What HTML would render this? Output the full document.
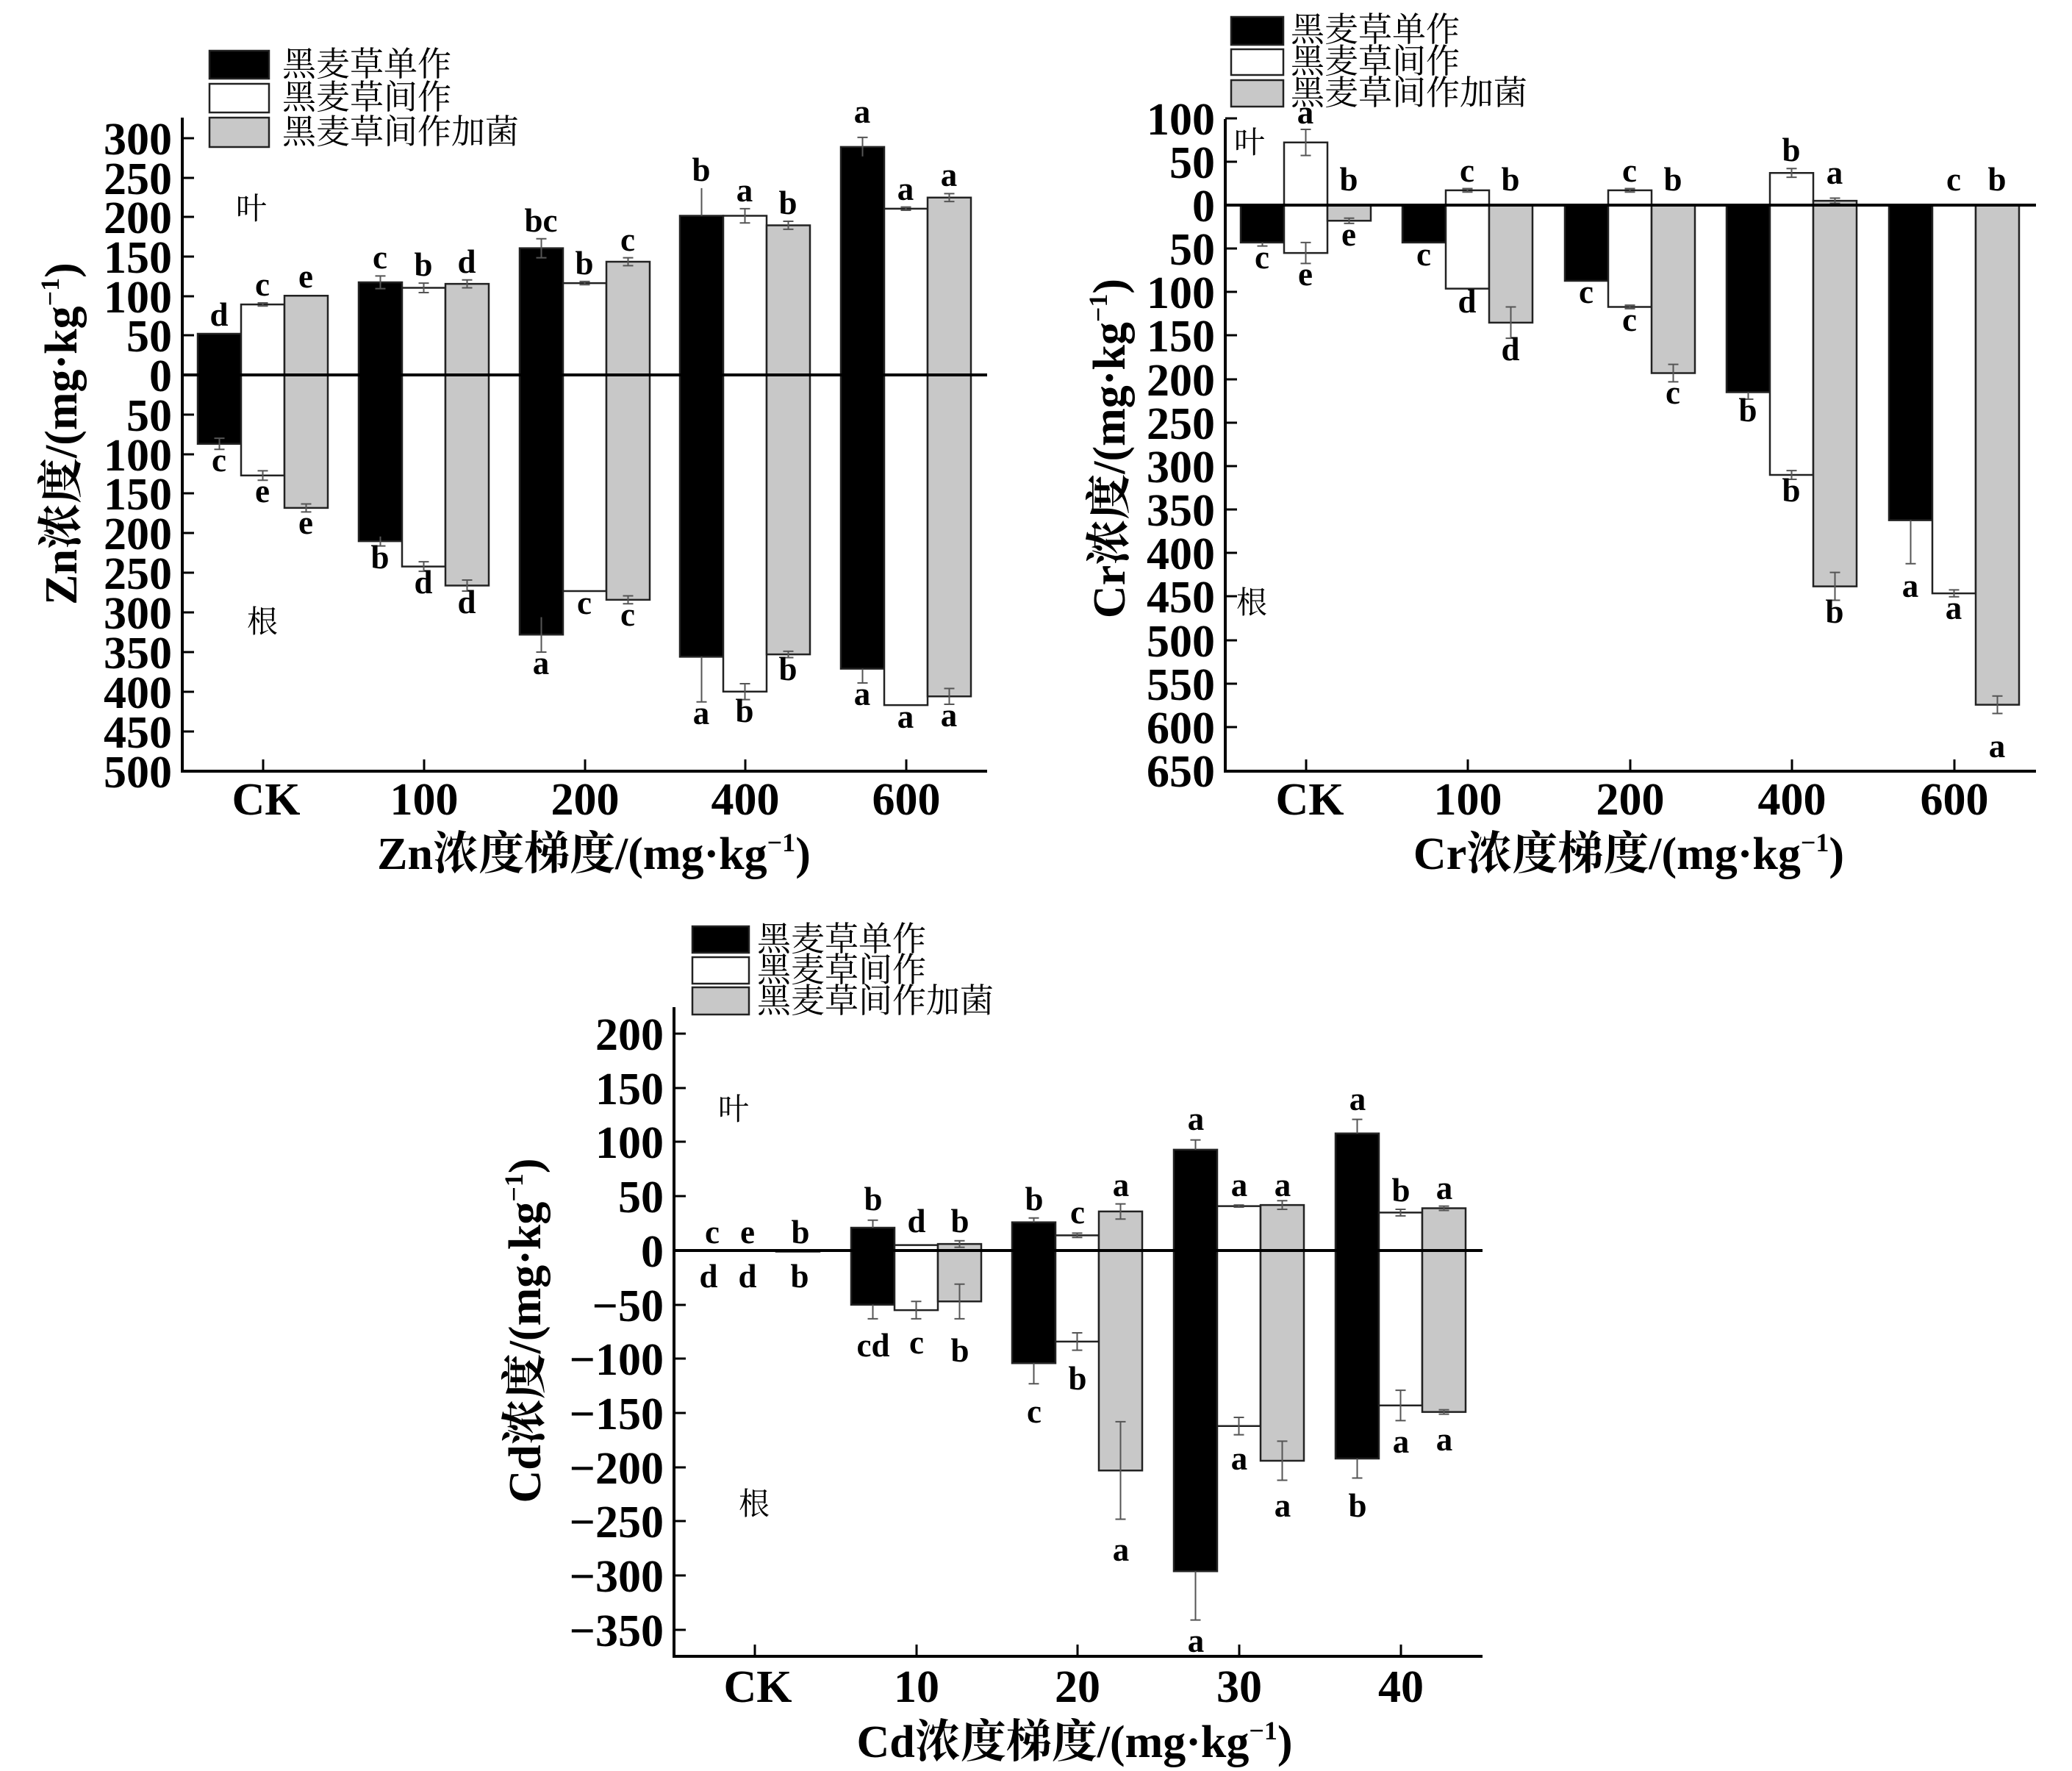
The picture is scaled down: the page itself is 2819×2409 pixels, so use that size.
<!DOCTYPE html>
<html><head><meta charset="utf-8"><style>
html,body{margin:0;padding:0;background:#fff;}
svg{display:block;}
.tk{font-family:"Liberation Serif",serif;font-weight:bold;font-size:62px;}
.lt{font-family:"Liberation Serif",serif;font-weight:bold;font-size:45px;text-anchor:middle;}
.lg{font-family:"Liberation Serif","Noto Serif CJK SC",serif;font-size:46px;}
.ttl{font-family:"Liberation Serif","Noto Serif CJK SC",serif;font-weight:bold;font-size:62px;text-anchor:middle;}
.cn{font-family:"Noto Serif CJK SC",serif;font-size:42px;text-anchor:middle;}
.bk{fill:#000;stroke:#222;stroke-width:2.5;}
.wh{fill:#fff;stroke:#222;stroke-width:2.5;}
.gr{fill:#c8c8c8;stroke:#222;stroke-width:2.5;}
.er{fill:none;stroke:#555;stroke-width:2;}
.ax{fill:none;stroke:#000;stroke-width:4;}
</style></head><body>
<svg width="2819" height="2409" viewBox="0 0 2819 2409" xmlns="http://www.w3.org/2000/svg">
<rect width="2819" height="2409" fill="#fff"/>

<!-- ================= Zn ================= -->
<g transform="translate(0,510) scale(1,-1.077)">
<rect class="bk" vector-effect="non-scaling-stroke" x="269" y="-87" width="59" height="139"/>
<rect class="wh" vector-effect="non-scaling-stroke" x="328" y="-127" width="59" height="216"/>
<rect class="gr" vector-effect="non-scaling-stroke" x="387" y="-168" width="59" height="268"/>
<rect class="bk" vector-effect="non-scaling-stroke" x="488" y="-210" width="59" height="327"/>
<rect class="wh" vector-effect="non-scaling-stroke" x="547" y="-242" width="59" height="352"/>
<rect class="gr" vector-effect="non-scaling-stroke" x="606" y="-266" width="59" height="381"/>
<rect class="bk" vector-effect="non-scaling-stroke" x="707" y="-328" width="59" height="488"/>
<rect class="wh" vector-effect="non-scaling-stroke" x="766" y="-273" width="59" height="389"/>
<rect class="gr" vector-effect="non-scaling-stroke" x="825" y="-284" width="59" height="427"/>
<rect class="bk" vector-effect="non-scaling-stroke" x="925" y="-356" width="59" height="557"/>
<rect class="wh" vector-effect="non-scaling-stroke" x="984" y="-400" width="59" height="601"/>
<rect class="gr" vector-effect="non-scaling-stroke" x="1043" y="-353" width="59" height="542"/>
<rect class="bk" vector-effect="non-scaling-stroke" x="1144" y="-371" width="59" height="659"/>
<rect class="wh" vector-effect="non-scaling-stroke" x="1203" y="-417" width="59" height="627"/>
<rect class="gr" vector-effect="non-scaling-stroke" x="1262" y="-406" width="59" height="630"/>
<path class="er" vector-effect="non-scaling-stroke" d="
M298.5 -94V-80M291.5 -94h14M291.5 -80h14
M357.5 87V91M350.5 87h14M350.5 91h14M357.5 -133V-121M350.5 -133h14M350.5 -121h14
M416.5 -173V-163M409.5 -173h14M409.5 -163h14
M517.5 109V125M510.5 109h14M510.5 125h14M517.5 -216V-204M510.5 -216h14
M576.5 104V116M569.5 104h14M569.5 116h14M576.5 -248V-236M569.5 -248h14M569.5 -236h14
M635.5 110V120M628.5 110h14M628.5 120h14M635.5 -273V-259M628.5 -273h14M628.5 -259h14
M736.5 148V172M729.5 148h14M729.5 172h14M736.5 -350V-306M729.5 -350h14
M795.5 114V118M788.5 114h14M788.5 118h14
M854.5 138V148M847.5 138h14M847.5 148h14M854.5 -289V-279M847.5 -289h14M847.5 -279h14
M954.5 201V236M954.5 -413V-356M947.5 -413h14
M1013.5 192V210M1006.5 192h14M1006.5 210h14M1013.5 -410V-390M1006.5 -410h14M1006.5 -390h14
M1072.5 184V194M1065.5 184h14M1065.5 194h14M1072.5 -357V-349M1065.5 -357h14M1065.5 -349h14
M1173.5 276V300M1166.5 300h14M1173.5 -389V-371M1166.5 -389h14
M1232.5 208V212M1225.5 208h14M1225.5 212h14
M1291.5 219V229M1284.5 219h14M1284.5 229h14M1291.5 -416V-396M1284.5 -416h14M1284.5 -396h14"/>
</g>
<path class="ax" d="M248 160V1049H1343"/>
<path class="ax" d="M248 510H1343"/>
<path class="ax" style="stroke-width:3" d="M248 188h16M248 242h16M248 295h16M248 349h16M248 403h16M248 456h16M248 564h16M248 618h16M248 671h16M248 725h16M248 779h16M248 833h16M248 887h16M248 941h16M248 995h16
M358 1049v-16M577 1049v-16M796 1049v-16M1014 1049v-16M1233 1049v-16"/>
<g class="tk" text-anchor="end">
<text x="234" y="210">300</text><text x="234" y="264">250</text><text x="234" y="317">200</text><text x="234" y="371">150</text><text x="234" y="425">100</text><text x="234" y="478">50</text><text x="234" y="532">0</text><text x="234" y="586">50</text><text x="234" y="640">100</text><text x="234" y="693">150</text><text x="234" y="747">200</text><text x="234" y="801">250</text><text x="234" y="855">300</text><text x="234" y="909">350</text><text x="234" y="963">400</text><text x="234" y="1017">450</text><text x="234" y="1071">500</text>
</g>
<g class="tk" text-anchor="middle">
<text x="362" y="1108">CK</text><text x="577" y="1108">100</text><text x="796" y="1108">200</text><text x="1014" y="1108">400</text><text x="1233" y="1108">600</text>
</g>
<text class="ttl" x="808" y="1182">Zn浓度梯度/(mg·kg<tspan font-size="36" dy="-24">−1</tspan><tspan dy="24">)</tspan></text>
<text class="ttl" transform="translate(104,590) rotate(-90)">Zn浓度/(mg·kg<tspan font-size="36" dy="-24">−1</tspan><tspan dy="24">)</tspan></text>
<text class="cn" x="342" y="298">叶</text>
<text class="cn" x="357" y="860">根</text>
<g class="lt">
<text x="298" y="443">d</text><text x="357" y="402">c</text><text x="416" y="391">e</text>
<text x="298" y="641">c</text><text x="357" y="683">e</text><text x="416" y="726">e</text>
<text x="517" y="365">c</text><text x="576" y="375">b</text><text x="635" y="371">d</text>
<text x="517" y="773">b</text><text x="576" y="807">d</text><text x="635" y="834">d</text>
<text x="736" y="315">bc</text><text x="795" y="373">b</text><text x="854" y="341">c</text>
<text x="736" y="917">a</text><text x="795" y="835">c</text><text x="854" y="851">c</text>
<text x="954" y="246">b</text><text x="1013" y="274">a</text><text x="1072" y="291">b</text>
<text x="954" y="985">a</text><text x="1013" y="982">b</text><text x="1072" y="925">b</text>
<text x="1173" y="167">a</text><text x="1232" y="272">a</text><text x="1291" y="253">a</text>
<text x="1173" y="959">a</text><text x="1232" y="990">a</text><text x="1291" y="988">a</text>
</g>
<rect x="285" y="69" width="81" height="38" fill="#000" stroke="#222" stroke-width="2.5"/>
<rect x="285" y="114" width="81" height="39" fill="#fff" stroke="#222" stroke-width="2.5"/>
<rect x="285" y="160" width="81" height="40" fill="#c8c8c8" stroke="#222" stroke-width="2.5"/>
<g class="lg"><text x="384" y="103">黑麦草单作</text><text x="384" y="148">黑麦草间作</text><text x="384" y="195">黑麦草间作加菌</text></g>

<!-- ================= Cr ================= -->
<g transform="translate(0,279) scale(1,-1.184)">
<rect class="bk" vector-effect="non-scaling-stroke" x="1688" y="-43" width="59" height="43"/>
<rect class="wh" vector-effect="non-scaling-stroke" x="1747" y="-55" width="59" height="127"/>
<rect class="gr" vector-effect="non-scaling-stroke" x="1806" y="-18" width="59" height="18"/>
<rect class="bk" vector-effect="non-scaling-stroke" x="1908" y="-43" width="59" height="43"/>
<rect class="wh" vector-effect="non-scaling-stroke" x="1967" y="-96" width="59" height="113"/>
<rect class="gr" vector-effect="non-scaling-stroke" x="2026" y="-135" width="59" height="135"/>
<rect class="bk" vector-effect="non-scaling-stroke" x="2129" y="-87" width="59" height="87"/>
<rect class="wh" vector-effect="non-scaling-stroke" x="2188" y="-117" width="59" height="134"/>
<rect class="gr" vector-effect="non-scaling-stroke" x="2247" y="-193" width="59" height="193"/>
<rect class="bk" vector-effect="non-scaling-stroke" x="2349" y="-215" width="59" height="215"/>
<rect class="wh" vector-effect="non-scaling-stroke" x="2408" y="-310" width="59" height="347"/>
<rect class="gr" vector-effect="non-scaling-stroke" x="2467" y="-438" width="59" height="443"/>
<rect class="bk" vector-effect="non-scaling-stroke" x="2570" y="-362" width="59" height="362"/>
<rect class="wh" vector-effect="non-scaling-stroke" x="2629" y="-446" width="59" height="446"/>
<rect class="gr" vector-effect="non-scaling-stroke" x="2688" y="-574" width="59" height="574"/>
<path class="er" vector-effect="non-scaling-stroke" d="
M1717.5 -47V-43M1710.5 -47h14
M1776.5 57V87M1769.5 57h14M1769.5 87h14M1776.5 -67V-43M1769.5 -67h14M1769.5 -43h14
M1835.5 -21V-15M1828.5 -21h14M1828.5 -15h14
M1996.5 15V19M1989.5 15h14M1989.5 19h14
M2055.5 -153V-117M2048.5 -153h14M2048.5 -117h14
M2217.5 15V19M2210.5 15h14M2210.5 19h14M2217.5 -119V-115M2210.5 -119h14M2210.5 -115h14
M2276.5 -203V-183M2269.5 -203h14M2269.5 -183h14
M2378.5 -223V-215M2371.5 -223h14
M2437.5 32V42M2430.5 32h14M2430.5 42h14M2437.5 -315V-305M2430.5 -315h14M2430.5 -305h14
M2496.5 2V8M2489.5 2h14M2489.5 8h14M2496.5 -454V-422M2489.5 -454h14M2489.5 -422h14
M2599.5 -412V-362M2592.5 -412h14
M2658.5 -450V-442M2651.5 -450h14M2651.5 -442h14
M2717.5 -584V-564M2710.5 -584h14M2710.5 -564h14"/>
</g>
<path class="ax" d="M1667 162V1049H2770"/>
<path class="ax" d="M1667 279H2770"/>
<path class="ax" style="stroke-width:3" d="M1667 161h16M1667 220h16M1667 338h16M1667 397h16M1667 456h16M1667 516h16M1667 575h16M1667 634h16M1667 693h16M1667 752h16M1667 811h16M1667 871h16M1667 930h16M1667 989h16
M1777 1049v-16M1997 1049v-16M2218 1049v-16M2438 1049v-16M2659 1049v-16"/>
<g class="tk" text-anchor="end">
<text x="1653" y="183">100</text><text x="1653" y="242">50</text><text x="1653" y="301">0</text><text x="1653" y="360">50</text><text x="1653" y="419">100</text><text x="1653" y="478">150</text><text x="1653" y="538">200</text><text x="1653" y="597">250</text><text x="1653" y="656">300</text><text x="1653" y="715">350</text><text x="1653" y="774">400</text><text x="1653" y="833">450</text><text x="1653" y="893">500</text><text x="1653" y="952">550</text><text x="1653" y="1011">600</text><text x="1653" y="1070">650</text>
</g>
<g class="tk" text-anchor="middle">
<text x="1782" y="1108">CK</text><text x="1997" y="1108">100</text><text x="2218" y="1108">200</text><text x="2438" y="1108">400</text><text x="2659" y="1108">600</text>
</g>
<text class="ttl" x="2216" y="1182">Cr浓度梯度/(mg·kg<tspan font-size="36" dy="-24">−1</tspan><tspan dy="24">)</tspan></text>
<text class="ttl" transform="translate(1530,610) rotate(-90)">Cr浓度/(mg·kg<tspan font-size="36" dy="-24">−1</tspan><tspan dy="24">)</tspan></text>
<text class="cn" x="1700" y="208">叶</text>
<text class="cn" x="1703" y="834">根</text>
<g class="lt">
<text x="1776" y="168">a</text><text x="1835" y="259">b</text>
<text x="1717" y="365">c</text><text x="1776" y="388">e</text><text x="1835" y="334">e</text>
<text x="1996" y="247">c</text><text x="2055" y="259">b</text>
<text x="1937" y="361">c</text><text x="1996" y="425">d</text><text x="2055" y="490">d</text>
<text x="2217" y="247">c</text><text x="2276" y="259">b</text>
<text x="2158" y="412">c</text><text x="2217" y="450">c</text><text x="2276" y="549">c</text>
<text x="2437" y="219">b</text><text x="2496" y="250">a</text>
<text x="2378" y="573">b</text><text x="2437" y="682">b</text><text x="2496" y="847">b</text>
<text x="2658" y="259">c</text><text x="2717" y="259">b</text>
<text x="2599" y="812">a</text><text x="2658" y="842">a</text><text x="2717" y="1030">a</text>
</g>
<rect x="1675" y="23" width="71" height="38" fill="#000" stroke="#222" stroke-width="2.5"/>
<rect x="1675" y="67" width="71" height="35" fill="#fff" stroke="#222" stroke-width="2.5"/>
<rect x="1675" y="109" width="71" height="36" fill="#c8c8c8" stroke="#222" stroke-width="2.5"/>
<g class="lg"><text x="1756" y="56">黑麦草单作</text><text x="1756" y="99">黑麦草间作</text><text x="1756" y="142">黑麦草间作加菌</text></g>

<!-- ================= Cd ================= -->
<g transform="translate(0,1701) scale(1,-1.474)">
<rect class="gr" vector-effect="non-scaling-stroke" x="1056" y="-1" width="59" height="1"/>
<rect class="bk" vector-effect="non-scaling-stroke" x="1158" y="-50" width="59" height="71"/>
<rect class="wh" vector-effect="non-scaling-stroke" x="1217" y="-55" width="59" height="60"/>
<rect class="gr" vector-effect="non-scaling-stroke" x="1276" y="-47" width="59" height="53"/>
<rect class="bk" vector-effect="non-scaling-stroke" x="1377" y="-104" width="59" height="130"/>
<rect class="wh" vector-effect="non-scaling-stroke" x="1436" y="-84" width="59" height="98"/>
<rect class="gr" vector-effect="non-scaling-stroke" x="1495" y="-203" width="59" height="239"/>
<rect class="bk" vector-effect="non-scaling-stroke" x="1597" y="-296" width="59" height="389"/>
<rect class="wh" vector-effect="non-scaling-stroke" x="1656" y="-162" width="59" height="203"/>
<rect class="gr" vector-effect="non-scaling-stroke" x="1715" y="-194" width="59" height="236"/>
<rect class="bk" vector-effect="non-scaling-stroke" x="1817" y="-192" width="59" height="300"/>
<rect class="wh" vector-effect="non-scaling-stroke" x="1876" y="-143" width="59" height="178"/>
<rect class="gr" vector-effect="non-scaling-stroke" x="1935" y="-149" width="59" height="188"/>
<path class="er" vector-effect="non-scaling-stroke" d="
M1187.5 21V28M1180.5 28h14M1187.5 -63V-50M1180.5 -63h14
M1246.5 -63V-47M1239.5 -63h14M1239.5 -47h14
M1305.5 3V9M1298.5 3h14M1298.5 9h14M1305.5 -63V-31M1298.5 -63h14M1298.5 -31h14
M1406.5 26V30M1399.5 30h14M1406.5 -123V-104M1399.5 -123h14
M1465.5 12V16M1458.5 12h14M1458.5 16h14M1465.5 -92V-76M1458.5 -92h14M1458.5 -76h14
M1524.5 29V43M1517.5 29h14M1517.5 43h14M1524.5 -248V-158M1517.5 -248h14M1517.5 -158h14
M1626.5 93V102M1619.5 102h14M1626.5 -341V-296M1619.5 -341h14
M1685.5 40V42M1678.5 40h14M1678.5 42h14M1685.5 -170V-154M1678.5 -170h14M1678.5 -154h14
M1744.5 38V46M1737.5 38h14M1737.5 46h14M1744.5 -212V-176M1737.5 -212h14M1737.5 -176h14
M1846.5 108V121M1839.5 121h14M1846.5 -210V-192M1839.5 -210h14
M1905.5 32V38M1898.5 32h14M1898.5 38h14M1905.5 -157V-129M1898.5 -157h14M1898.5 -129h14
M1964.5 37V41M1957.5 37h14M1957.5 41h14M1964.5 -151V-147M1957.5 -151h14M1957.5 -147h14"/>
</g>
<path class="ax" d="M917 1370V2253H2017"/>
<path class="ax" d="M917 1701H2017"/>
<path class="ax" style="stroke-width:3" d="M917 1406h16M917 1480h16M917 1553h16M917 1627h16M917 1775h16M917 1848h16M917 1922h16M917 1996h16M917 2069h16M917 2143h16M917 2217h16
M1027 2253v-16M1247 2253v-16M1466 2253v-16M1686 2253v-16M1906 2253v-16"/>
<g class="tk" text-anchor="end">
<text x="903" y="1428">200</text><text x="903" y="1502">150</text><text x="903" y="1575">100</text><text x="903" y="1649">50</text><text x="903" y="1723">0</text><text x="903" y="1797">−50</text><text x="903" y="1870">−100</text><text x="903" y="1944">−150</text><text x="903" y="2018">−200</text><text x="903" y="2091">−250</text><text x="903" y="2165">−300</text><text x="903" y="2239">−350</text>
</g>
<g class="tk" text-anchor="middle">
<text x="1031" y="2315">CK</text><text x="1247" y="2315">10</text><text x="1466" y="2315">20</text><text x="1686" y="2315">30</text><text x="1906" y="2315">40</text>
</g>
<text class="ttl" x="1462" y="2390">Cd浓度梯度/(mg·kg<tspan font-size="36" dy="-24">−1</tspan><tspan dy="24">)</tspan></text>
<text class="ttl" transform="translate(735,1810) rotate(-90)">Cd浓度/(mg·kg<tspan font-size="36" dy="-24">−1</tspan><tspan dy="24">)</tspan></text>
<text class="cn" x="998" y="1523">叶</text>
<text class="cn" x="1026" y="2060">根</text>
<g class="lt">
<text x="969" y="1691">c</text><text x="1017" y="1691">e</text><text x="1089" y="1691">b</text>
<text x="964" y="1751">d</text><text x="1017" y="1751">d</text><text x="1088" y="1751">b</text>
<text x="1188" y="1646">b</text><text x="1247" y="1676">d</text><text x="1306" y="1676">b</text>
<text x="1188" y="1845">cd</text><text x="1247" y="1841">c</text><text x="1306" y="1852">b</text>
<text x="1407" y="1646">b</text><text x="1466" y="1664">c</text><text x="1525" y="1627">a</text>
<text x="1407" y="1935">c</text><text x="1466" y="1890">b</text><text x="1525" y="2123">a</text>
<text x="1627" y="1537">a</text><text x="1686" y="1627">a</text><text x="1745" y="1627">a</text>
<text x="1627" y="2247">a</text><text x="1686" y="1999">a</text><text x="1745" y="2063">a</text>
<text x="1847" y="1510">a</text><text x="1906" y="1634">b</text><text x="1965" y="1631">a</text>
<text x="1847" y="2063">b</text><text x="1906" y="1976">a</text><text x="1965" y="1973">a</text>
</g>
<rect x="942" y="1260" width="77" height="36" fill="#000" stroke="#222" stroke-width="2.5"/>
<rect x="942" y="1302" width="77" height="36" fill="#fff" stroke="#222" stroke-width="2.5"/>
<rect x="942" y="1343" width="77" height="37" fill="#c8c8c8" stroke="#222" stroke-width="2.5"/>
<g class="lg"><text x="1030" y="1293">黑麦草单作</text><text x="1030" y="1335">黑麦草间作</text><text x="1030" y="1377">黑麦草间作加菌</text></g>
</svg>
</body></html>
